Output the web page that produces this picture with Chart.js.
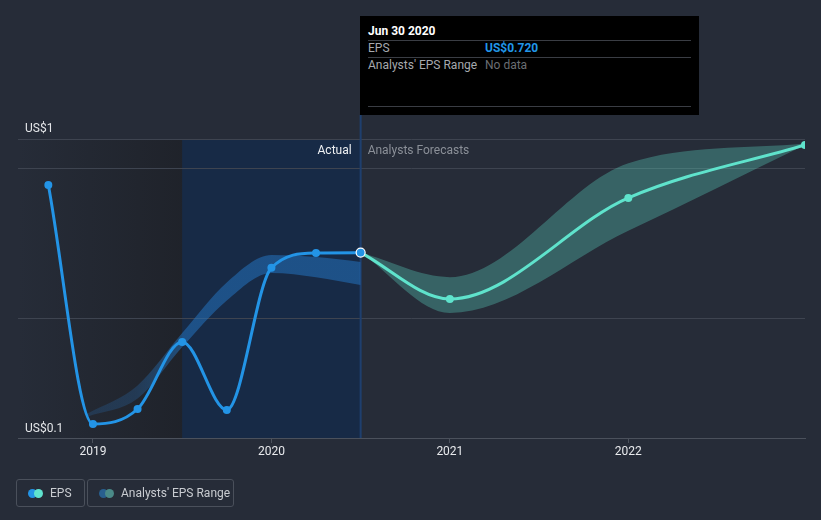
<!DOCTYPE html>
<html>
<head>
<meta charset="utf-8">
<script src="https://cdn.jsdelivr.net/npm/chart.js@4.4.0/dist/chart.umd.min.js"></script>
<style>
  html, body { margin: 0; padding: 0; background: #262c38; }
  #wrap { position: relative; width: 821px; height: 520px; overflow: hidden; font-family: Roboto, "Noto Sans", sans-serif; }
  canvas { position: absolute; left: 0; top: 0; }
  #tip { position: absolute; left: 360px; top: 16px; width: 339px; height: 99px; background: #000; box-sizing: border-box; color: #ccc; font-size: 12px; }
  #tip .title { position: absolute; left: 8px; top: 8px; color: #fff; font-weight: bold; font-size: 12px; }
  #tip .sep { position: absolute; left: 8px; width: 323px; height: 1px; background: #3a3d44; }
  #tip .lab { position: absolute; left: 8px; color: #a6a9ae; }
  #tip .val { position: absolute; left: 125px; }
  .leg { position: absolute; top: 479px; height: 28px; box-sizing: border-box; border: 1px solid #4a505b; border-radius: 3px; color: #c9ccd1; font-size: 12px; line-height: 26px; }
  .dot { position: absolute; top: 9px; width: 9px; height: 9px; border-radius: 50%; }
</style>
</head>
<body>
<div id="wrap">
  <canvas id="c" width="821" height="520"></canvas>
  <div id="tip">
    <div class="title">Jun 30 2020</div>
    <div class="sep" style="top:24px"></div>
    <div class="lab" style="top:25px">EPS</div>
    <div class="val" style="top:25px;color:#2196e8;font-weight:bold">US$0.720</div>
    <div class="sep" style="top:41px"></div>
    <div class="lab" style="top:42px">Analysts' EPS Range</div>
    <div class="val" style="top:42px;color:#6b6e73">No data</div>
    <div class="sep" style="top:90px"></div>
  </div>
  <div class="leg" style="left:16px;width:69px">
    <div class="dot" style="left:11px;background:#2394e6"></div>
    <div class="dot" style="left:17px;background:#5fe3cf"></div>
    <span style="position:absolute;left:33px">EPS</span>
  </div>
  <div class="leg" style="left:87px;width:147px">
    <div class="dot" style="left:11px;background:#285f8f"></div>
    <div class="dot" style="left:17px;background:#4a8a88"></div>
    <span style="position:absolute;left:33px">Analysts' EPS Range</span>
  </div>
</div>
<script>
// ---- data (dates as decimal years) ----
const epsDates = [2018.75, 2019.0, 2019.25, 2019.5, 2019.75, 2020.0, 2020.25, 2020.5];
const epsValues = [0.946, 0.147, 0.197, 0.421, 0.194, 0.669, 0.719, 0.720];
const forecastDates = [2020.5, 2021.0, 2022.0, 2022.99];
const forecastValues = [0.720, 0.565, 0.903, 1.08];
const forecastLow = [0.720, 0.518, 0.793, 1.08];
const forecastHigh = [0.720, 0.638, 1.019, 1.085];
const rangeDates = [2018.97, 2019.25, 2019.5, 2019.75, 2020.0, 2020.25, 2020.5];
const rangeLow = [0.172, 0.232, 0.404, 0.56, 0.652, 0.638, 0.612];
const rangeHigh = [0.182, 0.276, 0.451, 0.62, 0.712, 0.705, 0.689];
const xTicks = [2019, 2020, 2021, 2022];
const yTicks = [0.1, 0.5, 1.0, 1.1];
const yLabels = { '0.1': 'US$0.1', '1.1': 'US$1' };
const actualEnd = 2020.5;
const shadeStart = 2019.5;

const pts = (xs, ys) => xs.map((x, i) => ({ x, y: ys[i] }));

function bandFill(ctx) {
  const chart = ctx.chart;
  const a = chart.chartArea;
  if (!a) return 'rgba(36,120,200,0.5)';
  const x = chart.scales.x;
  const x0 = a.left, x1 = a.right;
  const g = chart.ctx.createLinearGradient(x0, 0, x1, 0);
  const s = (x.getPixelForValue(shadeStart) - x0) / (x1 - x0);
  g.addColorStop(0, 'rgba(40,110,180,0.18)');
  g.addColorStop(Math.max(0, s - 0.06), 'rgba(40,110,180,0.28)');
  g.addColorStop(s, 'rgba(36,120,200,0.5)');
  g.addColorStop(1, 'rgba(36,120,200,0.5)');
  return g;
}

const bgPlugin = {
  id: 'bg',
  beforeDraw(chart) {
    const { ctx, chartArea: a, scales: { x } } = chart;
    ctx.save();
    ctx.fillStyle = '#262c38';
    ctx.fillRect(0, 0, chart.width, chart.height);
    const xs = x.getPixelForValue(shadeStart);
    const xe = x.getPixelForValue(actualEnd);
    const g = ctx.createLinearGradient(a.left, 0, xs, 0);
    g.addColorStop(0, 'rgba(30,33,40,0.0)');
    g.addColorStop(1, 'rgba(30,33,40,0.85)');
    ctx.fillStyle = g;
    ctx.fillRect(a.left, a.top, xs - a.left, a.bottom - a.top);
    ctx.fillStyle = '#172a46';
    ctx.fillRect(xs, a.top, xe - xs, a.bottom - a.top);
    ctx.restore();
  },
  beforeDatasetsDraw(chart) {
    const { ctx, chartArea: a, scales: { x, y } } = chart;
    const xe = x.getPixelForValue(actualEnd);
    ctx.save();
    ctx.strokeStyle = '#1f3f6e';
    ctx.lineWidth = 2;
    ctx.beginPath();
    ctx.moveTo(xe, 115);
    ctx.lineTo(xe, a.bottom);
    ctx.stroke();
    ctx.font = '12px Roboto, "Noto Sans", sans-serif';
    ctx.textBaseline = 'middle';
    ctx.textAlign = 'right';
    ctx.fillStyle = '#eef0f2';
    ctx.fillText('Actual', xe - 9, a.top + 12);
    ctx.textAlign = 'left';
    ctx.fillStyle = '#8b9098';
    ctx.fillText('Analysts Forecasts', xe + 7, a.top + 12);
    ctx.fillStyle = '#e4e6e9';
    ctx.fillText(yLabels['1.1'], 25, y.getPixelForValue(1.1) - 10);
    ctx.fillText(yLabels['0.1'], 25, y.getPixelForValue(0.1) - 9);
    ctx.restore();
  }
};

const lastIdx = epsDates.length - 1;

new Chart(document.getElementById('c'), {
  type: 'line',
  data: {
    datasets: [
      { data: pts(epsDates, epsValues), borderColor: '#2394e6', backgroundColor: '#2394e6', borderWidth: 3, fill: false, cubicInterpolationMode: 'monotone',
        pointRadius: epsDates.map((d, i) => i === lastIdx ? 4.5 : 4),
        pointBorderColor: epsDates.map((d, i) => i === lastIdx ? '#ffffff' : '#2394e6'),
        pointBorderWidth: epsDates.map((d, i) => i === lastIdx ? 1.2 : 0) },
      { data: pts(forecastDates, forecastValues), borderColor: '#5fe3cc', backgroundColor: '#5fe3cc', borderWidth: 3,
        pointRadius: forecastDates.map((d, i) => i === 0 ? 0 : 4), pointBorderWidth: 0, fill: false, cubicInterpolationMode: 'monotone' },
      { data: pts(rangeDates, rangeLow), borderWidth: 0, pointRadius: 0, fill: false, cubicInterpolationMode: 'monotone' },
      { data: pts(rangeDates, rangeHigh), borderWidth: 0, pointRadius: 0, fill: 2, backgroundColor: bandFill, cubicInterpolationMode: 'monotone' },
      { data: pts(forecastDates, forecastLow), borderWidth: 0, pointRadius: 0, fill: false, cubicInterpolationMode: 'monotone' },
      { data: pts(forecastDates, forecastHigh), borderWidth: 0, pointRadius: 0, fill: 4, backgroundColor: 'rgba(95,227,204,0.3)', cubicInterpolationMode: 'monotone' }
    ]
  },
  options: {
    responsive: false,
    animation: false,
    devicePixelRatio: 1,
    layout: { padding: { left: 18, right: 16, top: 139, bottom: 42 } },
    plugins: { legend: { display: false }, tooltip: { enabled: false } },
    events: [],
    scales: {
      x: {
        type: 'linear', min: 2018.58, max: 2022.99,
        afterBuildTicks: s => { s.ticks = xTicks.map(v => ({ value: v })); },
        afterFit: s => { s.height = 40; },
        ticks: { color: '#e8eaed', font: { size: 12, family: 'Roboto' }, padding: 2, callback: v => String(v), maxRotation: 0 },
        grid: { display: true, drawOnChartArea: false, drawTicks: true, tickLength: 5, color: '#4b515c' },
        border: { color: '#4b515c', width: 1 }
      },
      y: {
        type: 'linear', min: 0.1, max: 1.1,
        afterBuildTicks: s => { s.ticks = yTicks.map(v => ({ value: v })); },
        afterFit: s => { s.width = 0; },
        ticks: { display: false },
        grid: { drawTicks: false, color: ctx => ctx.tick && ctx.tick.value === 0.1 ? 'rgba(0,0,0,0)' : '#3e4450' },
        border: { display: false }
      }
    }
  },
  plugins: [bgPlugin]
});
</script>
</body>
</html>
